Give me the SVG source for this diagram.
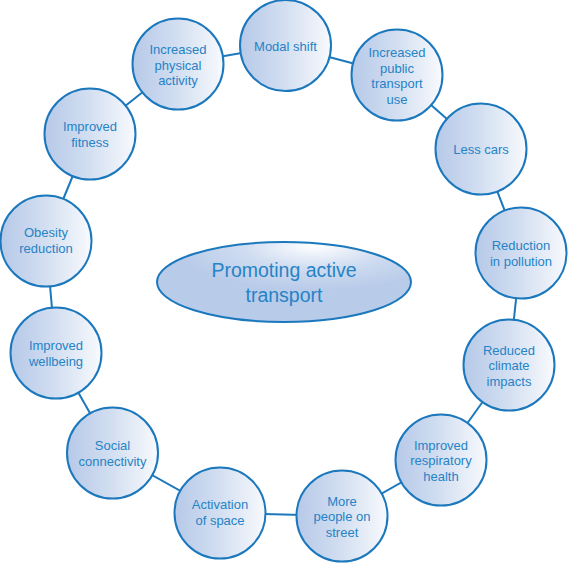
<svg xmlns="http://www.w3.org/2000/svg" width="568" height="563" viewBox="0 0 568 563">
<defs>
<linearGradient id="cg" x1="0" y1="0" x2="1" y2="0">
<stop offset="0" stop-color="#b6c9e8"/>
<stop offset="0.5" stop-color="#d3dff1"/>
<stop offset="1" stop-color="#f8fafd"/>
</linearGradient>
<radialGradient id="eg" cx="0.62" cy="0.05" r="0.55" fx="0.62" fy="0.05">
<stop offset="0" stop-color="#ffffff"/>
<stop offset="0.5" stop-color="#d0ddf1"/>
<stop offset="1" stop-color="#b8cbe9"/>
</radialGradient>
<style>
.n circle{fill:url(#cg);stroke:#1b78bd;stroke-width:2}
.n text{font-family:"Liberation Sans",Arial,sans-serif;font-size:13px;fill:#2683c6;text-anchor:middle}
#connectors line{stroke:#1b78bd;stroke-width:2}
</style>
</defs>
<g id="connectors">
<line x1="285.5" y1="45.5" x2="397" y2="75"/>
<line x1="397" y1="75" x2="481" y2="149"/>
<line x1="481" y1="149" x2="521" y2="253"/>
<line x1="521" y1="253" x2="509" y2="365"/>
<line x1="509" y1="365" x2="441" y2="460"/>
<line x1="441" y1="460" x2="342" y2="516"/>
<line x1="342" y1="516" x2="220" y2="513"/>
<line x1="220" y1="513" x2="112.5" y2="453"/>
<line x1="112.5" y1="453" x2="56" y2="353"/>
<line x1="56" y1="353" x2="46" y2="241"/>
<line x1="46" y1="241" x2="90" y2="134"/>
<line x1="90" y1="134" x2="178" y2="64"/>
<line x1="178" y1="64" x2="285.5" y2="45.5"/>
</g>
<g id="center">
<ellipse cx="284" cy="282" rx="127" ry="40" fill="url(#eg)" stroke="#1b78bd" stroke-width="2"/>
<text x="284" y="277" font-family="Liberation Sans,Arial,sans-serif" font-size="19.5" fill="#2683c6" text-anchor="middle">Promoting active</text>
<text x="284" y="302" font-family="Liberation Sans,Arial,sans-serif" font-size="19.5" fill="#2683c6" text-anchor="middle">transport</text>
</g>
<g id="modal-shift" class="n"><circle cx="285.5" cy="45.5" r="45.5"/><text x="285.5" y="51">Modal shift</text></g>
<g id="public-transport" class="n"><circle cx="397" cy="75" r="45.5"/><text x="397" y="57">Increased</text><text x="397" y="72.5">public</text><text x="397" y="88">transport</text><text x="397" y="103.5">use</text></g>
<g id="less-cars" class="n"><circle cx="481" cy="149" r="45.5"/><text x="481" y="154">Less cars</text></g>
<g id="pollution" class="n"><circle cx="521" cy="253" r="45.5"/><text x="521" y="250">Reduction</text><text x="521" y="266">in pollution</text></g>
<g id="climate" class="n"><circle cx="509" cy="365" r="45.5"/><text x="509" y="354.5">Reduced</text><text x="509" y="370">climate</text><text x="509" y="385.5">impacts</text></g>
<g id="respiratory" class="n"><circle cx="441" cy="460" r="45.5"/><text x="441" y="449.5">Improved</text><text x="441" y="465">respiratory</text><text x="441" y="480.5">health</text></g>
<g id="people-street" class="n"><circle cx="342" cy="516" r="45.5"/><text x="342" y="505.5">More</text><text x="342" y="521">people on</text><text x="342" y="536.5">street</text></g>
<g id="activation" class="n"><circle cx="220" cy="513" r="45.5"/><text x="220" y="509">Activation</text><text x="220" y="525">of space</text></g>
<g id="social" class="n"><circle cx="112.5" cy="453" r="45.5"/><text x="112.5" y="450">Social</text><text x="112.5" y="466">connectivity</text></g>
<g id="wellbeing" class="n"><circle cx="56" cy="353" r="45.5"/><text x="56" y="350">Improved</text><text x="56" y="366">wellbeing</text></g>
<g id="obesity" class="n"><circle cx="46" cy="241" r="45.5"/><text x="46" y="237">Obesity</text><text x="46" y="253">reduction</text></g>
<g id="fitness" class="n"><circle cx="90" cy="134" r="45.5"/><text x="90" y="131">Improved</text><text x="90" y="147">fitness</text></g>
<g id="physical" class="n"><circle cx="178" cy="64" r="45.5"/><text x="178" y="54">Increased</text><text x="178" y="69.5">physical</text><text x="178" y="85">activity</text></g>
</svg>
